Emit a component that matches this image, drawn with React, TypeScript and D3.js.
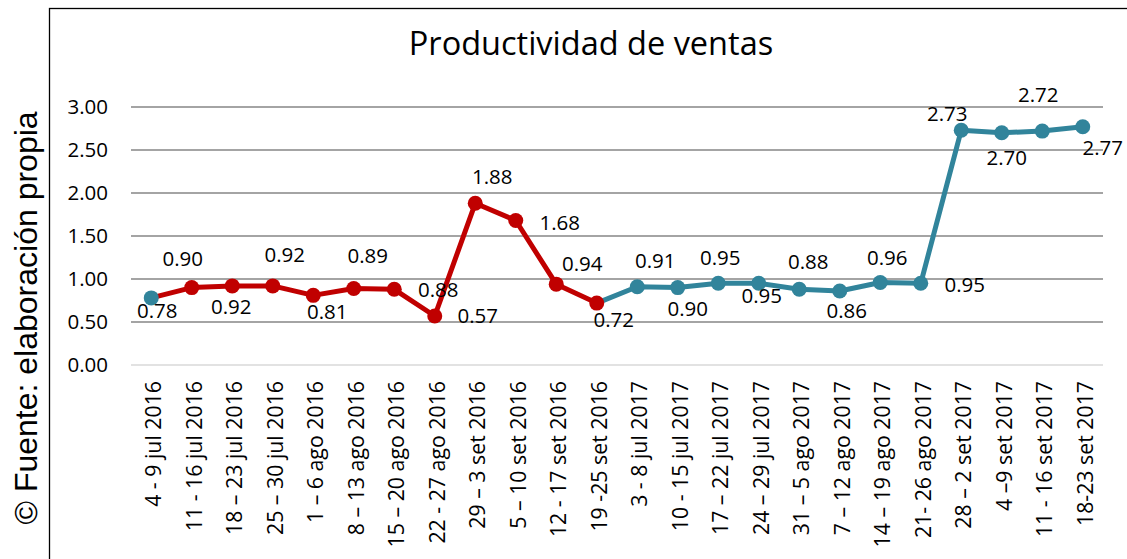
import React, { useEffect, useRef } from "react";
import * as d3 from "d3";

// semanas (eje x)
const weeks = [
  "4 - 9 jul 2016",
  "11 - 16 jul 2016",
  "18 – 23 jul 2016",
  "25 – 30 jul 2016",
  "1 – 6 ago 2016",
  "8 – 13 ago 2016",
  "15 – 20 ago 2016",
  "22 - 27 ago 2016",
  "29 – 3 set 2016",
  "5 – 10 set 2016",
  "12 - 17 set 2016",
  "19 -25 set 2016",
  "3 - 8 jul 2017",
  "10 - 15 jul 2017",
  "17 – 22 jul 2017",
  "24 – 29 jul 2017",
  "31 – 5 ago 2017",
  "7 – 12 ago 2017",
  "14 – 19 ago 2017",
  "21- 26 ago 2017",
  "28 – 2 set 2017",
  "4 –9 set 2017",
  "11 - 16 set 2017",
  "18-23 set 2017",
];

const productividad = [
  0.78, 0.9, 0.92, 0.92, 0.81, 0.89, 0.88, 0.57, 1.88, 1.68, 0.94, 0.72,
  0.91, 0.9, 0.95, 0.95, 0.88, 0.86, 0.96, 0.95, 2.73, 2.7, 2.72, 2.77,
];

const yTicks = [0, 0.5, 1, 1.5, 2, 2.5, 3];

const title = "Productividad de ventas";
const source = "© Fuente: elaboración propia";

const RED = "#C00000";
const TEAL = "#31849B";
const FONT = "'Open Sans', sans-serif";

// where each data label was dragged to in the original (dx, dy from the point)
const labelNudge: [number, number][] = [
  [6, 13], [-9, -29], [-1, 21], [12, -31], [14, 16], [14, -33],
  [44, 1], [43, 0], [17, -26], [44, 2], [26, -20], [17, 17],
  [18, -26], [10, 21], [2, -25], [3, 13], [9, -27], [7, 20],
  [7, -25], [44, 2], [-14, -16], [5, 25], [-4, -36], [20, 21],
];

const App = () => {
  const chartEl = useRef(null);

  useEffect(() => {
    const width = 1127,
      height = 559;

    const svg = d3
      .select(chartEl.current)
      .attr("width", width)
      .attr("height", height);
    svg.selectAll("*").remove();

    svg.append("rect").attr("width", width).attr("height", height).attr("fill", "#fff");

    // chart frame (runs off the right and bottom of the picture)
    svg
      .append("rect")
      .attr("x", 49.5)
      .attr("y", 8.5)
      .attr("width", 1200)
      .attr("height", 600)
      .attr("fill", "none")
      .attr("stroke", "#000")
      .attr("stroke-width", 1.3);

    const x = d3.scaleBand().domain(weeks).range([131, 1103]);
    const y = d3.scaleLinear().domain([0, 3]).range([365, 107]);
    const cx = (i: number) => x(weeks[i])! + x.bandwidth() / 2;

    // grid
    svg
      .append("g")
      .selectAll("line")
      .data(yTicks)
      .enter()
      .append("line")
      .attr("x1", 131)
      .attr("x2", 1103)
      .attr("y1", (d) => y(d))
      .attr("y2", (d) => y(d))
      .attr("stroke", (d) => (d === 0 ? "#D9D9D9" : "#868686"))
      .attr("stroke-width", 1.5);

    svg
      .append("g")
      .selectAll("text")
      .data(yTicks)
      .enter()
      .append("text")
      .attr("x", 108)
      .attr("y", (d) => y(d))
      .attr("dy", "0.35em")
      .attr("text-anchor", "end")
      .attr("font-family", FONT)
      .attr("font-size", 20.5)
      .text((d) => d3.format(".2f")(d));

    // x labels
    svg
      .append("g")
      .selectAll("text")
      .data(weeks)
      .enter()
      .append("text")
      .attr("transform", (d, i) => `translate(${cx(i) + 10},381) rotate(-90)`)
      .attr("text-anchor", "end")
      .attr("font-family", FONT)
      .attr("font-size", 21.3)
      .text((d) => d);

    // 2016 weeks in red, 2017 (joined from last 2016 week) in teal
    const idx = productividad.map((d, i) => i);
    const red = idx.slice(0, 12);
    const teal = idx.slice(11);

    const seg = d3
      .line<number>()
      .x((i) => cx(i))
      .y((i) => y(productividad[i]));

    svg
      .append("path")
      .attr("d", seg(red))
      .attr("fill", "none")
      .attr("stroke", RED)
      .attr("stroke-width", 5)
      .attr("stroke-linejoin", "round");

    svg
      .append("path")
      .attr("d", seg(teal))
      .attr("fill", "none")
      .attr("stroke", TEAL)
      .attr("stroke-width", 5)
      .attr("stroke-linejoin", "round");

    svg
      .selectAll(".dot")
      .data(productividad)
      .enter()
      .append("circle")
      .attr("class", "dot")
      .attr("cx", (d, i) => cx(i))
      .attr("cy", (d) => y(d))
      .attr("r", 7.5)
      .attr("fill", (d, i) => (i === 0 || i > 11 ? TEAL : RED));

    svg
      .selectAll(".lbl")
      .data(productividad)
      .enter()
      .append("text")
      .attr("class", "lbl")
      .attr("x", (d, i) => cx(i) + labelNudge[i][0])
      .attr("y", (d, i) => y(d) + labelNudge[i][1])
      .attr("dy", "0.35em")
      .attr("text-anchor", "middle")
      .attr("font-family", FONT)
      .attr("font-size", 20.5)
      .text((d) => d3.format(".2f")(d));

    svg
      .append("text")
      .attr("x", 591)
      .attr("y", 55)
      .attr("text-anchor", "middle")
      .attr("font-family", FONT)
      .attr("font-size", 32.5)
      .text(title);

    svg
      .append("text")
      .attr("transform", "translate(37,318) rotate(-90)")
      .attr("text-anchor", "middle")
      .attr("font-family", "'Liberation Sans', Arial, sans-serif")
      .attr("font-size", 32)
      .text(source);
  }, [chartEl]);

  return (
    <svg
      ref={chartEl}
      style={{ position: "absolute", left: 0, top: 0, display: "block" }}
    ></svg>
  );
};

export default App;
